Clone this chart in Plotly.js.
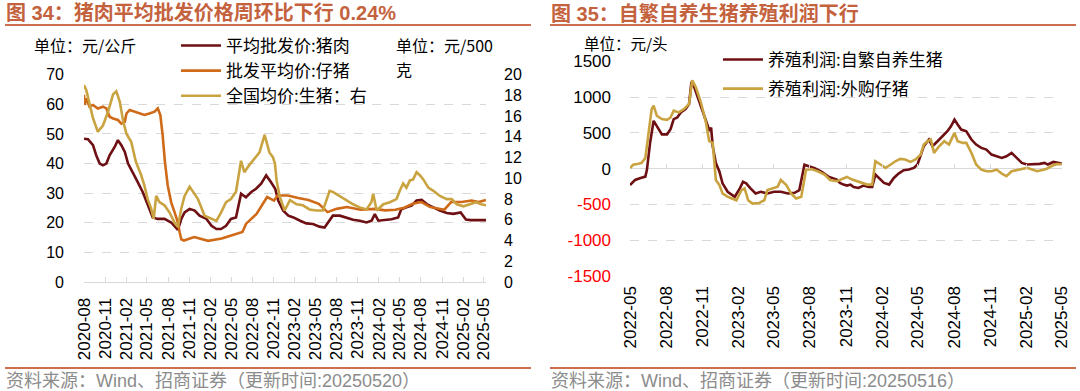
<!DOCTYPE html>
<html>
<head>
<meta charset="utf-8">
<script src="https://cdn.plot.ly/plotly-3.0.1.min.js"></script>
<style>
html,body{margin:0;padding:0;background:#fff;}
#chart{width:1080px;height:391px;}
</style>
</head>
<body>
<div id="chart"></div>
<script>
// ---------- Left chart (图34) ----------
const porkDates = ['2020-08-01','2020-08-18','2020-09-09','2020-09-23','2020-10-08','2020-10-22','2020-11-06','2020-11-20','2020-12-12','2020-12-26','2021-01-10','2021-01-25','2021-02-08','2021-03-01','2021-03-22','2021-04-13','2021-05-04','2021-05-26','2021-06-17','2021-07-16','2021-08-14','2021-09-05','2021-09-12','2021-09-27','2021-10-11','2021-11-02','2021-11-24','2021-12-15','2022-01-14','2022-02-05','2022-02-26','2022-03-18','2022-04-09','2022-04-30','2022-05-22','2022-06-13','2022-07-04','2022-07-26','2022-08-17','2022-09-08','2022-09-30','2022-10-21','2022-11-08','2022-11-21','2022-12-13','2023-01-04','2023-01-26','2023-02-24','2023-03-23','2023-04-21','2023-05-19','2023-06-10','2023-07-02','2023-07-16','2023-08-15','2023-09-13','2023-10-12','2023-11-10','2023-12-09','2023-12-31','2024-01-14','2024-01-29','2024-02-27','2024-03-26','2024-04-24','2024-05-08','2024-05-30','2024-06-21','2024-07-13','2024-08-04','2024-08-26','2024-09-24','2024-10-22','2024-11-21','2024-12-19','2025-01-20','2025-02-12','2025-03-05','2025-04-01','2025-05-10'];
const porkPrice = [48.4,48.2,46.2,42.8,40.0,39.4,40.0,42.8,45.6,47.9,46.2,43.9,40.0,37.1,33.7,30.3,26.4,21.8,21.3,21.3,20.1,18.4,17.6,21.3,23.5,24.7,24.1,22.4,21.3,19.0,17.9,17.9,19.0,21.3,21.8,29.8,28.6,30.3,31.5,33.2,36.0,33.7,31.5,27.5,24.1,22.4,21.8,20.7,19.8,19.6,18.7,18.4,20.7,22.4,22.4,21.8,21.0,20.7,20.1,20.7,22.9,20.7,20.9,21.2,21.8,24.6,25.2,25.8,27.5,27.7,26.3,25.2,24.1,23.3,23.0,23.5,21.1,20.9,20.8,20.9];

const pigletDates = ['2020-08-01','2020-08-04','2020-08-11','2020-08-25','2020-09-09','2020-09-30','2020-10-22','2020-11-06','2020-11-20','2020-12-05','2020-12-26','2021-01-10','2021-01-25','2021-02-01','2021-02-15','2021-03-07','2021-03-29','2021-04-20','2021-05-11','2021-06-03','2021-06-17','2021-06-28','2021-07-08','2021-07-18','2021-07-30','2021-08-14','2021-08-29','2021-09-12','2021-09-20','2021-09-27','2021-10-08','2021-11-22','2022-01-21','2022-03-21','2022-05-05','2022-06-19','2022-07-05','2022-08-19','2022-10-04','2022-11-03','2022-11-18','2023-01-02','2023-02-16','2023-04-01','2023-05-16','2023-06-23','2023-08-01','2023-09-15','2023-11-14','2024-01-13','2024-02-28','2024-04-12','2024-05-20','2024-06-26','2024-08-03','2024-09-10','2024-11-10','2024-12-10','2025-01-24','2025-03-09','2025-04-08','2025-05-10'];
const pigletPrice = [63.2,59.8,62.0,59.2,59.8,58.6,59.2,58.6,55.8,55.2,54.7,53.5,54.1,56.9,58.1,57.5,56.9,56.4,56.9,57.5,58.6,56.4,49.6,40.5,32.6,26.9,23.5,20.1,16.7,14.4,14.0,15.2,13.9,14.7,15.8,16.9,19.7,23.0,28.7,27.5,29.2,29.2,28.4,27.7,26.4,23.6,24.7,25.3,24.4,24.7,24.2,24.4,25.1,26.4,27.0,25.3,24.4,27.0,27.0,27.5,27.0,27.7];

const hogDates = ['2020-08-01','2020-08-11','2020-09-09','2020-09-30','2020-10-22','2020-11-13','2020-12-05','2020-12-19','2021-01-03','2021-01-18','2021-02-01','2021-02-22','2021-03-14','2021-04-06','2021-04-20','2021-05-04','2021-05-19','2021-05-30','2021-06-10','2021-06-24','2021-07-16','2021-08-07','2021-08-29','2021-09-12','2021-09-27','2021-10-11','2021-11-02','2021-11-17','2021-12-08','2022-01-06','2022-02-05','2022-02-26','2022-03-18','2022-04-09','2022-04-30','2022-05-22','2022-06-13','2022-06-27','2022-07-19','2022-08-10','2022-09-01','2022-09-23','2022-10-14','2022-10-30','2022-11-07','2022-11-14','2022-11-28','2022-12-19','2023-01-11','2023-02-09','2023-03-08','2023-04-06','2023-05-05','2023-06-03','2023-07-02','2023-07-16','2023-08-15','2023-09-13','2023-10-12','2023-11-10','2023-12-09','2023-12-30','2024-01-07','2024-01-22','2024-02-20','2024-03-19','2024-04-17','2024-05-01','2024-05-16','2024-05-30','2024-06-14','2024-06-28','2024-07-13','2024-07-27','2024-08-11','2024-09-02','2024-09-24','2024-10-22','2024-11-21','2024-12-12','2025-01-03','2025-02-01','2025-03-01','2025-03-28','2025-04-19','2025-05-10'];
const hogPrice = [19.0,18.5,15.8,14.5,15.1,16.4,18.1,18.4,17.4,15.5,14.3,13.5,11.6,10.3,9.3,8.0,7.1,6.1,8.3,7.7,7.4,6.7,5.7,5.3,7.1,8.3,9.2,8.7,8.0,6.4,6.1,5.9,6.7,7.7,8.0,8.7,11.7,10.6,11.3,11.9,12.5,14.2,12.5,12.0,11.4,9.8,8.2,6.9,7.9,7.5,7.4,7.0,6.9,6.9,8.8,8.7,8.3,7.9,7.5,7.2,7.0,7.7,8.5,6.9,7.5,7.7,8.0,8.8,9.5,9.1,9.8,9.9,10.6,10.3,9.9,9.1,8.8,8.3,8.0,8.0,7.5,7.3,7.5,7.7,7.5,7.4];

const leftTickVals = ['2020-08-01','2020-11-01','2021-02-01','2021-05-01','2021-08-01','2021-11-01','2022-02-01','2022-05-01','2022-08-01','2022-11-01','2023-02-01','2023-05-01','2023-08-01','2023-11-01','2024-02-01','2024-05-01','2024-08-01','2024-11-01','2025-02-01','2025-05-01'];
const leftTickText = ['2020-08','2020-11','2021-02','2021-05','2021-08','2021-11','2022-02','2022-05','2022-08','2022-11','2023-02','2023-05','2023-08','2023-11','2024-02','2024-05','2024-08','2024-11','2025-02','2025-05'];

// ---------- Right chart (图35) ----------
const selfDates = ['2022-05-01','2022-05-14','2022-05-26','2022-06-09','2022-06-13','2022-06-21','2022-06-30','2022-07-08','2022-07-21','2022-08-03','2022-08-12','2022-08-20','2022-08-29','2022-09-07','2022-09-19','2022-09-28','2022-10-04','2022-10-11','2022-10-24','2022-11-06','2022-11-14','2022-11-19','2022-11-23','2022-11-27','2022-12-05','2022-12-14','2022-12-22','2023-01-04','2023-01-22','2023-02-04','2023-02-12','2023-02-20','2023-03-03','2023-03-16','2023-03-29','2023-04-15','2023-05-02','2023-05-19','2023-06-06','2023-06-23','2023-07-05','2023-07-18','2023-07-31','2023-08-13','2023-08-30','2023-09-17','2023-10-08','2023-10-16','2023-10-25','2023-11-03','2023-11-12','2023-11-20','2023-12-02','2023-12-15','2023-12-28','2024-01-06','2024-01-14','2024-01-23','2024-02-05','2024-02-18','2024-03-01','2024-03-13','2024-03-26','2024-04-08','2024-04-21','2024-04-30','2024-05-08','2024-05-16','2024-05-29','2024-06-07','2024-06-20','2024-07-02','2024-07-15','2024-07-24','2024-08-02','2024-08-10','2024-08-19','2024-09-01','2024-09-14','2024-09-26','2024-10-09','2024-10-22','2024-11-04','2024-11-17','2024-11-30','2024-12-12','2024-12-25','2025-01-07','2025-01-20','2025-02-02','2025-02-18','2025-03-06','2025-03-19','2025-03-27','2025-04-10','2025-04-19','2025-05-01'];
const selfProfit = [-230,-159,-135,-112,-17,361,669,598,480,480,551,693,716,787,834,905,1213,1142,929,740,598,527,574,314,78,-41,-206,-324,-395,-277,-183,-206,-277,-348,-324,-348,-324,-324,-348,-339,-301,54,30,7,-41,-112,-154,-200,-224,-238,-224,-257,-271,-238,-257,-257,-84,-131,-200,-224,-131,-70,-23,-14,10,57,173,313,407,313,383,453,523,593,687,617,547,523,407,337,290,267,196,173,150,173,220,150,80,57,57,66,80,57,93,85,70];

const boughtDates = ['2022-05-01','2022-05-09','2022-05-22','2022-05-30','2022-06-09','2022-06-17','2022-06-25','2022-06-30','2022-07-08','2022-07-21','2022-08-03','2022-08-12','2022-08-20','2022-09-02','2022-09-15','2022-09-28','2022-10-02','2022-10-06','2022-10-15','2022-10-28','2022-11-10','2022-11-18','2022-11-27','2022-12-05','2022-12-14','2022-12-22','2023-01-04','2023-01-26','2023-02-08','2023-02-16','2023-02-25','2023-03-08','2023-03-25','2023-04-07','2023-04-15','2023-04-28','2023-05-11','2023-05-19','2023-06-02','2023-06-14','2023-06-27','2023-07-10','2023-07-22','2023-08-05','2023-08-22','2023-09-08','2023-09-21','2023-10-08','2023-10-21','2023-11-03','2023-11-16','2023-11-29','2023-12-11','2023-12-24','2024-01-06','2024-01-14','2024-01-27','2024-02-09','2024-02-22','2024-03-05','2024-03-17','2024-03-30','2024-04-12','2024-04-25','2024-05-08','2024-05-16','2024-05-25','2024-06-03','2024-06-11','2024-06-24','2024-07-07','2024-07-19','2024-08-02','2024-08-10','2024-08-23','2024-09-01','2024-09-14','2024-09-26','2024-10-09','2024-10-22','2024-11-04','2024-11-17','2024-11-30','2024-12-12','2024-12-25','2025-01-07','2025-01-20','2025-02-02','2025-02-15','2025-02-28','2025-03-10','2025-03-23','2025-04-07','2025-04-19','2025-05-01'];
const boughtProfit = [7,54,68,78,149,480,834,882,740,693,683,716,811,787,834,905,1118,1237,1142,929,645,385,361,-159,-230,-348,-395,-443,-301,-277,-443,-490,-481,-443,-301,-277,-253,-159,-230,-348,-419,-395,-17,-7,-41,-88,-159,-177,-144,-117,-154,-177,-200,-224,-224,103,57,10,57,103,136,127,94,127,196,337,383,407,220,313,383,337,500,383,360,360,220,57,-14,-37,-37,-14,-70,-107,-37,-23,-14,10,-14,-37,-23,-5,40,65,60];

const rightTickVals = ['2022-05-01','2022-08-01','2022-11-01','2023-02-01','2023-05-01','2023-08-01','2023-11-01','2024-02-01','2024-05-01','2024-08-01','2024-11-01','2025-02-01','2025-05-01'];
const rightTickText = ['2022-05','2022-08','2022-11','2023-02','2023-05','2023-08','2023-11','2024-02','2024-05','2024-08','2024-11','2025-02','2025-05'];
const profitTickVals = [-1500,-1000,-500,0,500,1000,1500];

// ---------- helpers ----------
const W = 1080, H = 391;
const px = v => v / W;
const py = v => (H - v) / H;

const C_MAROON = '#6E1013', C_ORANGE = '#CF6A18', C_GOLD = '#C9A340';
const TITLE_C = '#C4623E', RULE_C = '#CB6F4F';
const CJK = '"Noto Sans CJK SC", sans-serif';
const LAT = '"Liberation Sans", Arial, "Noto Sans CJK SC", sans-serif';

const traces = [
  {x: porkDates, y: porkPrice, name: '平均批发价:猪肉', type: 'scatter', mode: 'lines',
   line: {color: C_MAROON, width: 2.6}, xaxis: 'x', yaxis: 'y', legend: 'legend'},
  {x: pigletDates, y: pigletPrice, name: '批发平均价:仔猪', type: 'scatter', mode: 'lines',
   line: {color: C_ORANGE, width: 2.6}, xaxis: 'x', yaxis: 'y', legend: 'legend'},
  {x: hogDates, y: hogPrice, name: '全国均价:生猪：右', type: 'scatter', mode: 'lines',
   line: {color: C_GOLD, width: 2.6}, xaxis: 'x', yaxis: 'y2', legend: 'legend'},
  {x: selfDates, y: selfProfit, name: '养殖利润:自繁自养生猪', type: 'scatter', mode: 'lines',
   line: {color: C_MAROON, width: 2.6}, xaxis: 'x2', yaxis: 'y3', legend: 'legend2', legendgroup: 'a'},
  {x: boughtDates, y: boughtProfit, name: '养殖利润:外购仔猪', type: 'scatter', mode: 'lines',
   line: {color: C_GOLD, width: 2.6}, xaxis: 'x2', yaxis: 'y3', legend: 'legend2', legendgroup: 'b'},
  {x: [rightTickVals[0]], y: [0], type: 'scatter', mode: 'lines', showlegend: false,
   hoverinfo: 'skip', xaxis: 'x3', yaxis: 'y3', line: {color: 'rgba(0,0,0,0)'}}
];

const profitTickText = profitTickVals.map(v => v < 0 ? '<span style="color:#FF0000">' + v + '</span>' : String(v));

const layout = {
  width: W, height: H,
  margin: {l: 0, r: 0, t: 0, b: 0},
  paper_bgcolor: '#fff', plot_bgcolor: '#fff',
  showlegend: true,
  xaxis: {
    domain: [px(84), px(486)], type: 'date', range: ['2020-08-01', '2025-05-10'],
    tickvals: leftTickVals, ticktext: leftTickText, tickangle: -90,
    tickfont: {family: LAT, size: 17, color: '#000'},
    showline: true, linecolor: '#D9D9D9', linewidth: 1,
    ticks: 'inside', ticklen: 5, tickcolor: '#D9D9D9',
    showgrid: false, zeroline: false, anchor: 'y', ticklabelstandoff: 8
  },
  yaxis: {
    domain: [py(282), py(74.7)], range: [0, 70], tickvals: [0,10,20,30,40,50,60,70],
    tickfont: {family: LAT, size: 16, color: '#000'},
    showgrid: true, gridcolor: '#D9D9D9', griddash: 'dash', gridwidth: 1,
    zeroline: false, showline: false, ticks: '', ticklabelstandoff: 19, anchor: 'x'
  },
  yaxis2: {
    overlaying: 'y', side: 'right', anchor: 'x', range: [0, 20],
    tickvals: [0,2,4,6,8,10,12,14,16,18,20],
    tickfont: {family: LAT, size: 16, color: '#000'},
    showgrid: false, zeroline: false, showline: false, ticks: '', ticklabelstandoff: 17
  },
  xaxis2: {
    domain: [px(630), px(1062)], type: 'date', range: ['2022-05-01', '2025-05-02'],
    tickvals: rightTickVals, ticktext: rightTickText, tickangle: -90,
    tickfont: {family: LAT, size: 17, color: '#000'},
    showline: false, ticks: '', showgrid: false, zeroline: false, anchor: 'y3', ticklabelstandoff: 6
  },
  xaxis3: {
    overlaying: 'x2', anchor: 'free', position: (py(275.7) + py(61.5)) / 2,
    type: 'date', range: ['2022-05-01', '2025-05-02'], tickvals: rightTickVals,
    showticklabels: false, ticks: 'inside', ticklen: 5, tickcolor: '#D9D9D9',
    showline: false, showgrid: false, zeroline: false
  },
  yaxis3: {
    domain: [py(275.7), py(61.5)], range: [-1500, 1500], anchor: 'x2',
    tickvals: profitTickVals, ticktext: profitTickText,
    tickfont: {family: LAT, size: 17, color: '#000'},
    showgrid: true, gridcolor: '#D9D9D9', griddash: 'dash', gridwidth: 1,
    zeroline: true, zerolinecolor: '#D9D9D9', zerolinewidth: 1.5,
    showline: false, ticks: '', ticklabelstandoff: 18
  },
  legend: {
    x: px(176), y: py(28), xanchor: 'left', yanchor: 'top',
    bgcolor: 'rgba(0,0,0,0)', font: {family: CJK, size: 17, color: '#000'},
    traceorder: 'normal', itemwidth: 40
  },
  legend2: {
    x: px(718), y: py(42), xanchor: 'left', yanchor: 'top',
    bgcolor: 'rgba(0,0,0,0)', font: {family: CJK, size: 17, color: '#000'},
    traceorder: 'grouped', tracegroupgap: 4, itemwidth: 40
  },
  shapes: [
    {type: 'line', xref: 'paper', yref: 'paper', x0: px(5), x1: px(531), y0: py(25), y1: py(25), line: {color: RULE_C, width: 2}},
    {type: 'line', xref: 'paper', yref: 'paper', x0: px(550), x1: px(1076), y0: py(25), y1: py(25), line: {color: RULE_C, width: 2}},
    {type: 'line', xref: 'paper', yref: 'paper', x0: px(5), x1: px(531), y0: py(368), y1: py(368), line: {color: RULE_C, width: 2}},
    {type: 'line', xref: 'paper', yref: 'paper', x0: px(550), x1: px(1076), y0: py(368), y1: py(368), line: {color: RULE_C, width: 2}}
  ],
  annotations: [
    {text: '<b>图 34：猪肉平均批发价格周环比下行 0.24%</b>', x: px(4), y: py(13.5), xref: 'paper', yref: 'paper',
     xanchor: 'left', yanchor: 'middle', showarrow: false, font: {family: LAT, size: 20, color: TITLE_C}},
    {text: '<b>图 35：自繁自养生猪养殖利润下行</b>', x: px(549), y: py(13.5), xref: 'paper', yref: 'paper',
     xanchor: 'left', yanchor: 'middle', showarrow: false, font: {family: LAT, size: 20, color: TITLE_C}},
    {text: '单位：元/公斤', x: px(32), y: py(45), xref: 'paper', yref: 'paper', xanchor: 'left', yanchor: 'middle',
     showarrow: false, font: {family: CJK, size: 16, color: '#000'}},
    {text: '单位：元/500', x: px(394), y: py(45), xref: 'paper', yref: 'paper', xanchor: 'left', yanchor: 'middle',
     showarrow: false, font: {family: CJK, size: 16, color: '#000'}},
    {text: '克', x: px(394), y: py(69), xref: 'paper', yref: 'paper', xanchor: 'left', yanchor: 'middle',
     showarrow: false, font: {family: CJK, size: 16, color: '#000'}},
    {text: '单位：元/头', x: px(582), y: py(43), xref: 'paper', yref: 'paper', xanchor: 'left', yanchor: 'middle',
     showarrow: false, font: {family: CJK, size: 15.5, color: '#000'}},
    {text: '资料来源：Wind、招商证券（更新时间:20250520）', x: px(4), y: py(381), xref: 'paper', yref: 'paper',
     xanchor: 'left', yanchor: 'middle', showarrow: false, font: {family: LAT, size: 18, color: '#8C8C8C'}},
    {text: '资料来源：Wind、招商证券（更新时间:20250516）', x: px(549), y: py(381), xref: 'paper', yref: 'paper',
     xanchor: 'left', yanchor: 'middle', showarrow: false, font: {family: LAT, size: 18, color: '#8C8C8C'}}
  ]
};

Plotly.newPlot('chart', traces, layout, {displayModeBar: false, staticPlot: true});
</script>
</body>
</html>
